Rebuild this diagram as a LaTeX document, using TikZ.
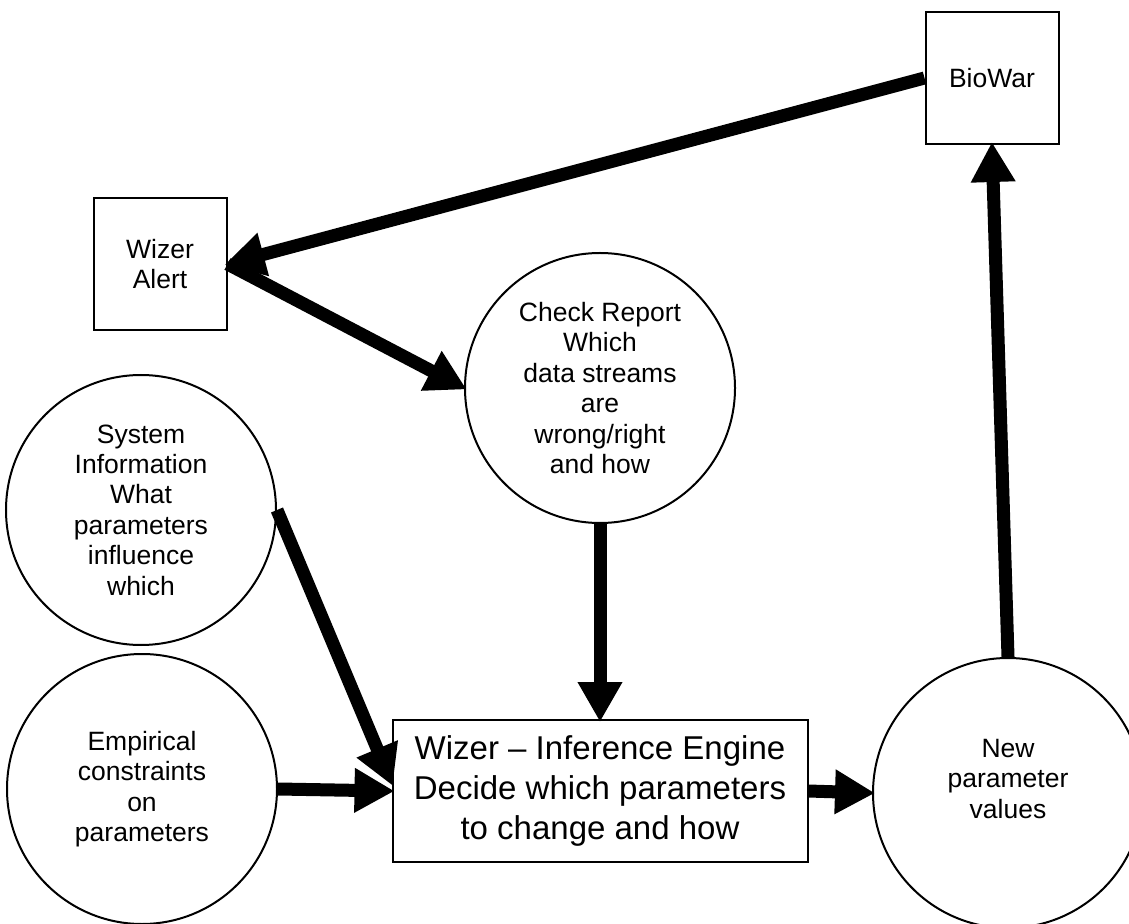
\documentclass[tikz,border=0pt]{standalone}
\usepackage{fontspec}
\setmainfont{Liberation Sans}
\usetikzlibrary{arrows.meta}

\begin{document}
\begin{tikzpicture}[x=0.5pt,y=-0.5pt,
        sqbox/.style={draw,line width=1pt,minimum width=66.5pt,minimum height=66pt,align=center,font=\fontsize{13.25}{15.2}\selectfont},
        bubble/.style={draw,circle,line width=1pt,minimum size=135pt,inner sep=0pt,align=center,font=\fontsize{13.25}{15.2}\selectfont},
        engbox/.style={draw,line width=1pt,minimum width=207.5pt,minimum height=71pt,align=center,font=\fontsize{16.5}{20}\selectfont},
        flow/.style={line width=6.5pt,shorten >=-1.5pt,-{Triangle[length=20pt,width=21pt]}}
    ]
    \useasboundingbox (0,0) rectangle (1129,924);

    \node[sqbox] (biowar) at (992,78) {BioWar};
    \node[sqbox] (alert) at (160,264) {Wizer\\Alert};
    \node[bubble] (check) at (600,388) {Check Report\\Which\\data streams\\are\\wrong/right\\and how};
    \node[bubble] (sysinfo) at (141,510) {System\\Information\\What\\parameters\\influence\\which};
    \node[bubble] (empir) at (142,789) {Empirical\\constraints\\on\\parameters};
    \node[engbox] (engine) at (600,791) {Wizer -- Inference Engine\\Decide which parameters\\to change and how};
    \node[bubble,label={[align=center,font=\fontsize{13.25}{15.2}\selectfont,yshift=7pt]center:New\\parameter\\values}] (newpar) at (1008,793) {};

    \draw[flow] (biowar.west) -- (alert.east);
    \draw[flow] (alert.east) -- (check.west);
    \draw[flow] (sysinfo.east) -- ([yshift=4pt]engine.west);
    \draw[flow] (empir.east) -- (engine.west);
    \draw[flow] (check.south) -- (engine.north);
    \draw[flow] (engine.east) -- (newpar.west);
    \draw[flow] (newpar.north) -- (biowar.south);
\end{tikzpicture}
\end{document}
